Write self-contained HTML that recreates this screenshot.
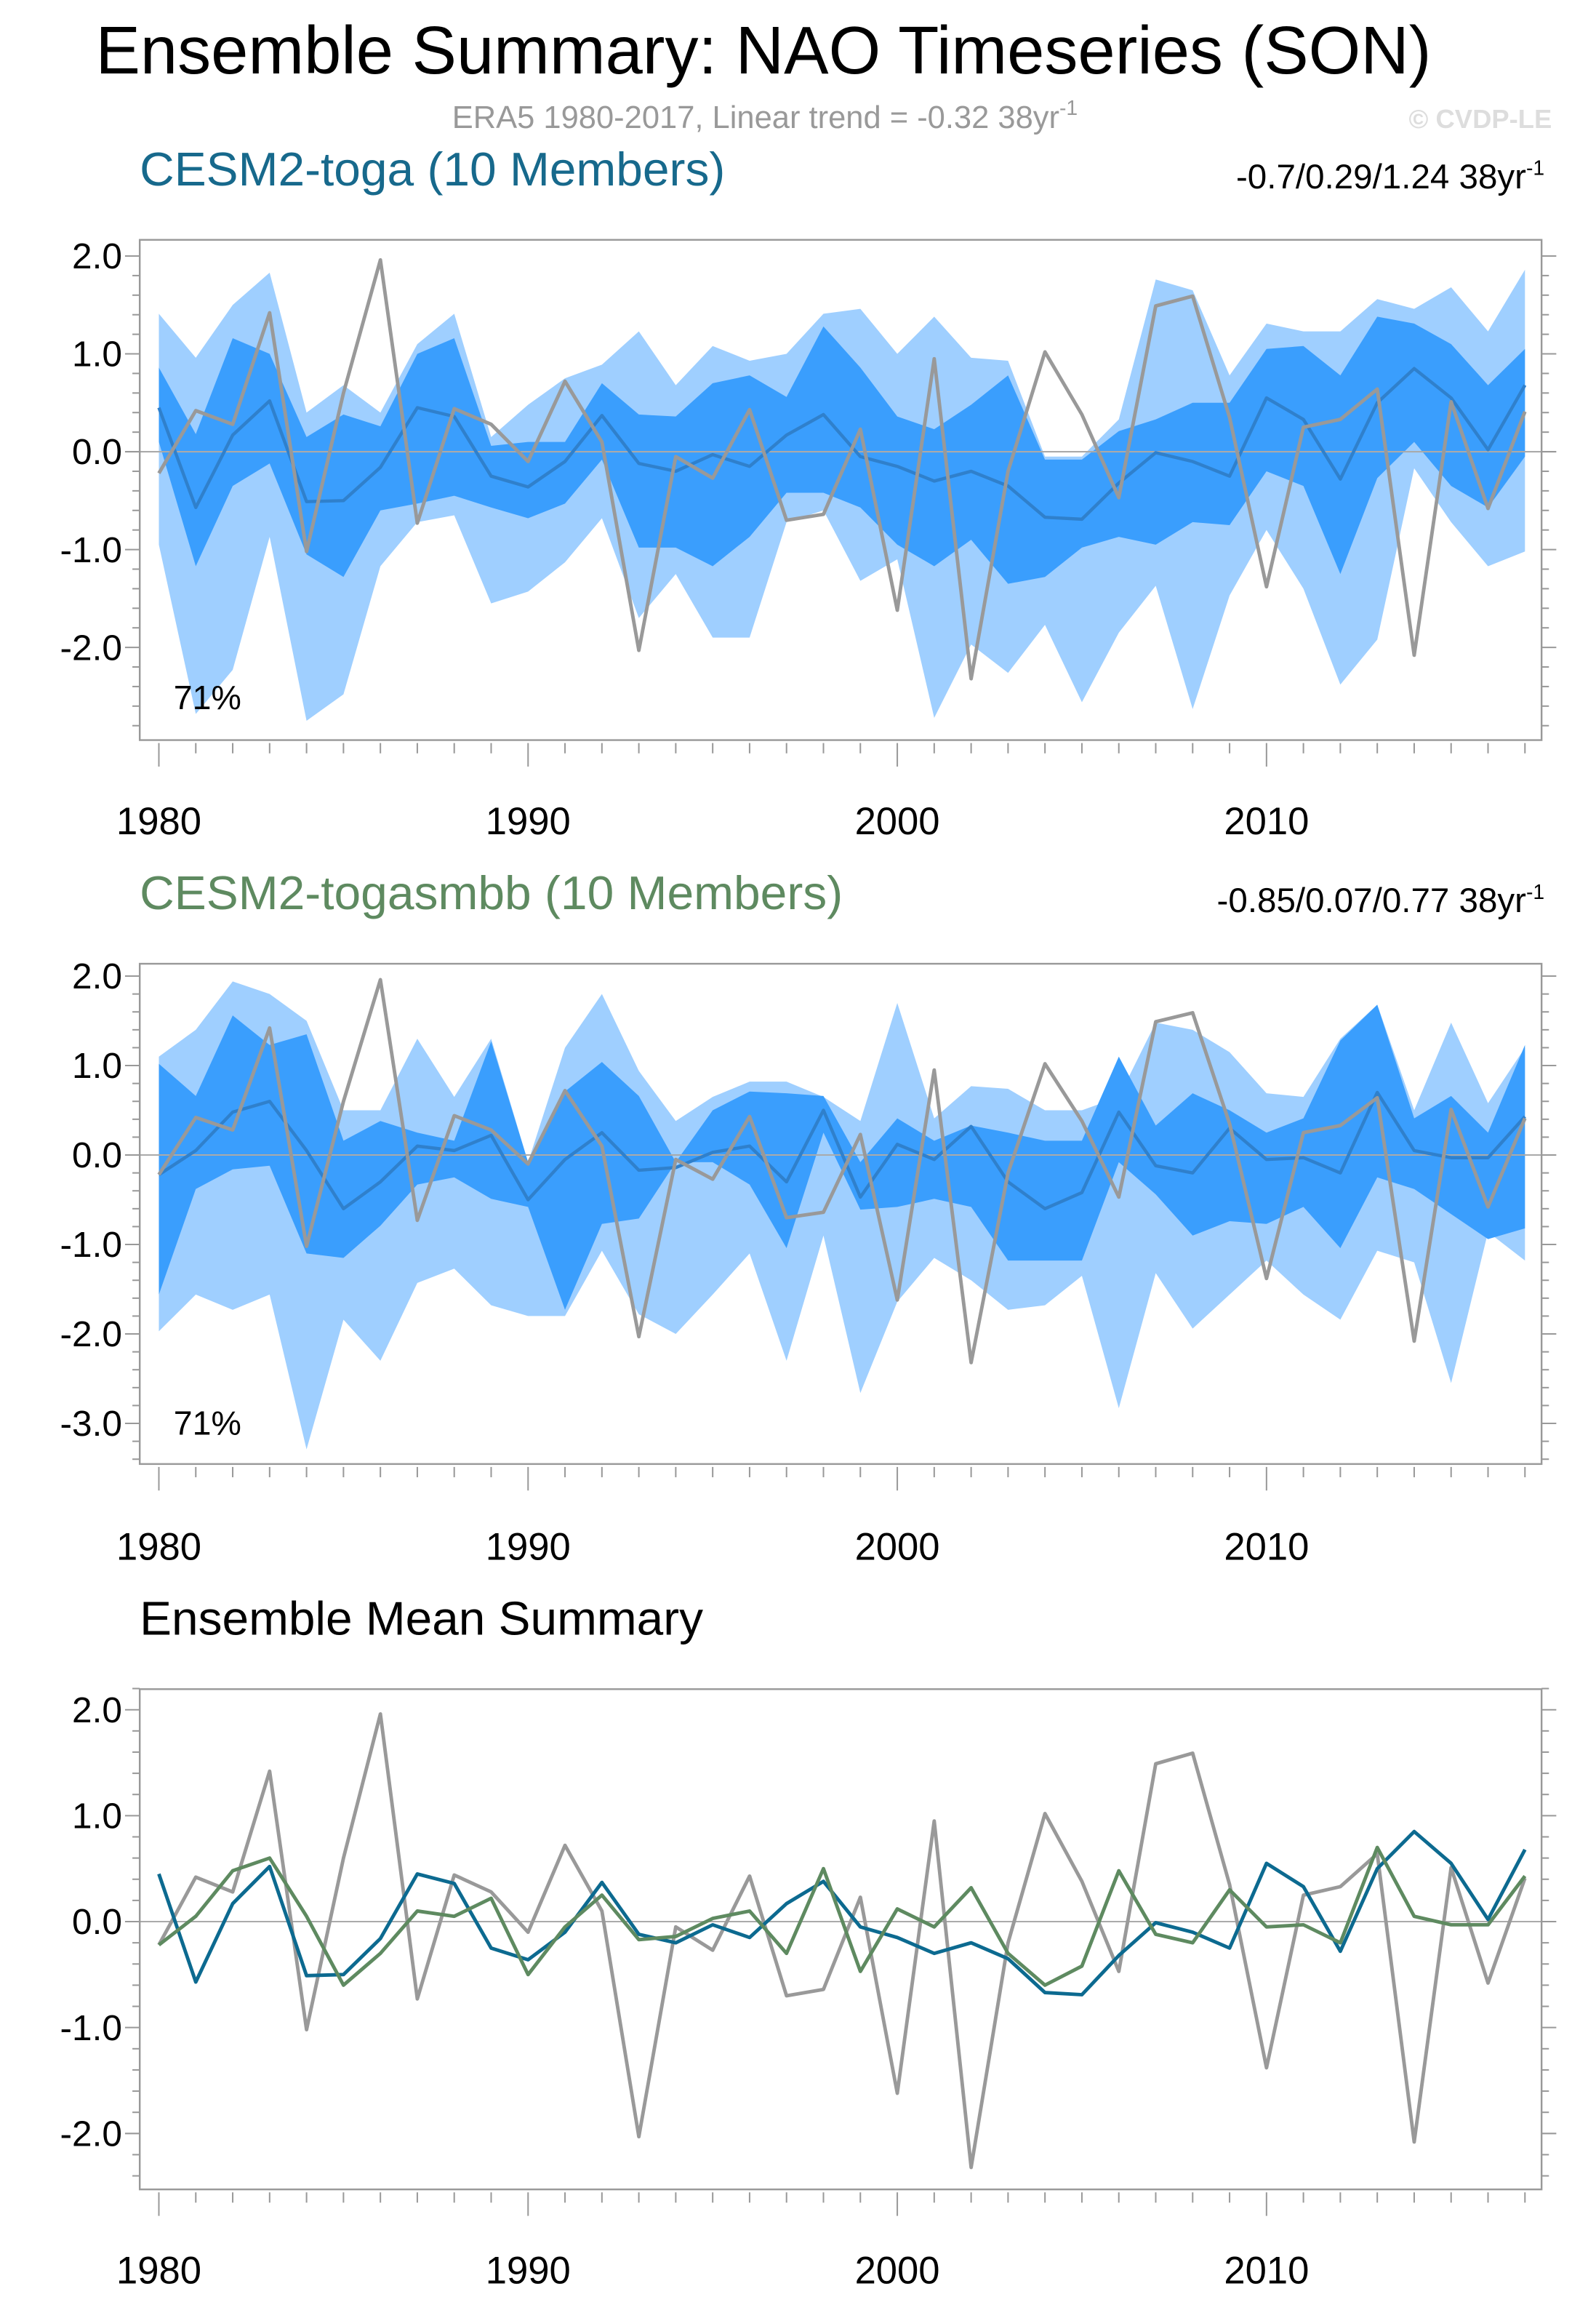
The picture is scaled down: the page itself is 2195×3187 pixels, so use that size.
<!DOCTYPE html>
<html><head><meta charset="utf-8">
<style>
html,body{margin:0;padding:0;background:#fff;}
svg{display:block;}
text{font-family:"Liberation Sans",Helvetica,Arial,sans-serif;}
</style></head>
<body>
<svg id="fig" width="2195" height="3187" viewBox="0 0 1085 1575.4" preserveAspectRatio="none" xmlns="http://www.w3.org/2000/svg">
<text x="65" y="50" font-size="46" textLength="908" lengthAdjust="spacingAndGlyphs">Ensemble Summary: NAO Timeseries (SON)</text>
<text x="520" y="87" font-size="21.5" fill="#999" text-anchor="middle">ERA5 1980-2017, Linear trend = -0.32 38yr<tspan font-size="14" dy="-9">-1</tspan></text>
<text x="1055" y="87" font-size="18" font-weight="bold" fill="#ddd" text-anchor="end">© CVDP-LE</text>
<text x="95" y="126" font-size="32" fill="#17698c" textLength="398" lengthAdjust="spacingAndGlyphs">CESM2-toga (10 Members)</text>
<text x="1050" y="128" font-size="23.5" text-anchor="end">-0.7/0.29/1.24 38yr<tspan font-size="14" dy="-9">-1</tspan></text>
<text x="95" y="618" font-size="32" fill="#5e8a60" textLength="478" lengthAdjust="spacingAndGlyphs">CESM2-togasmbb (10 Members)</text>
<text x="1050" y="620" font-size="23.5" text-anchor="end">-0.85/0.07/0.77 38yr<tspan font-size="14" dy="-9">-1</tspan></text>
<text x="95" y="1111" font-size="32" textLength="383" lengthAdjust="spacingAndGlyphs">Ensemble Mean Summary</text>
</svg>
<script>
const years=[];for(let y=1980;y<=2017;y++)years.push(y);
const era5=[-0.22,0.42,0.28,1.42,-1.02,0.6,1.96,-0.73,0.44,0.28,-0.1,0.72,0.1,-2.03,-0.05,-0.27,0.43,-0.7,-0.64,0.23,-1.62,0.95,-2.32,-0.2,1.02,0.38,-0.47,1.49,1.59,0.35,-1.38,0.25,0.33,0.64,-2.08,0.51,-0.58,0.41];
const togaMean=[0.45,-0.57,0.17,0.52,-0.51,-0.5,-0.16,0.45,0.36,-0.25,-0.36,-0.1,0.37,-0.12,-0.2,-0.03,-0.15,0.17,0.38,-0.05,-0.15,-0.3,-0.2,-0.35,-0.67,-0.69,-0.32,-0.01,-0.1,-0.25,0.55,0.33,-0.28,0.5,0.85,0.55,0.02,0.68];
const smbbMean=[-0.22,0.05,0.48,0.6,0.05,-0.6,-0.3,0.1,0.05,0.22,-0.5,-0.05,0.25,-0.17,-0.14,0.03,0.1,-0.3,0.5,-0.47,0.12,-0.05,0.32,-0.3,-0.6,-0.42,0.48,-0.12,-0.2,0.3,-0.05,-0.03,-0.2,0.7,0.05,-0.03,-0.03,0.43];
const togaOuterHi=[1.41,0.96,1.5,1.83,0.4,0.68,0.4,1.1,1.41,0.15,0.48,0.75,0.89,1.23,0.68,1.08,0.93,1.0,1.41,1.46,1.0,1.38,0.96,0.93,-0.05,-0.05,0.33,1.76,1.65,0.78,1.31,1.23,1.23,1.56,1.46,1.68,1.23,1.86];
const togaOuterLo=[-0.95,-2.68,-2.23,-0.87,-2.75,-2.48,-1.17,-0.72,-0.65,-1.55,-1.43,-1.13,-0.68,-1.7,-1.25,-1.9,-1.9,-0.72,-0.6,-1.32,-1.1,-2.72,-1.97,-2.26,-1.77,-2.56,-1.85,-1.37,-2.63,-1.47,-0.8,-1.4,-2.38,-1.92,-0.17,-0.72,-1.17,-1.02];
const togaInnerHi=[0.86,0.18,1.16,1.0,0.15,0.38,0.26,1.0,1.16,0.06,0.1,0.1,0.7,0.38,0.36,0.7,0.78,0.56,1.28,0.86,0.36,0.23,0.48,0.78,-0.08,-0.08,0.21,0.33,0.5,0.5,1.05,1.08,0.78,1.38,1.31,1.1,0.68,1.05];
const togaInnerLo=[0.1,-1.17,-0.35,-0.12,-1.05,-1.28,-0.6,-0.53,-0.45,-0.57,-0.68,-0.53,-0.08,-0.98,-0.98,-1.17,-0.87,-0.42,-0.42,-0.57,-0.95,-1.17,-0.9,-1.35,-1.28,-0.98,-0.87,-0.95,-0.72,-0.75,-0.2,-0.35,-1.25,-0.27,0.1,-0.35,-0.57,-0.05];
const smbbOuterHi=[1.1,1.4,1.94,1.8,1.5,0.5,0.5,1.3,0.65,1.3,-0.08,1.2,1.8,0.94,0.38,0.65,0.82,0.82,0.65,0.38,1.7,0.41,0.77,0.74,0.5,0.5,0.65,1.48,1.4,1.15,0.69,0.65,1.3,1.68,0.5,1.48,0.58,1.2];
const smbbOuterLo=[-1.97,-1.56,-1.73,-1.56,-3.29,-1.84,-2.3,-1.43,-1.27,-1.68,-1.8,-1.8,-1.07,-1.78,-2.0,-1.56,-1.1,-2.3,-0.9,-2.66,-1.64,-1.15,-1.4,-1.73,-1.68,-1.35,-2.83,-1.32,-1.94,-1.56,-1.18,-1.56,-1.84,-1.07,-1.2,-2.55,-0.86,-1.18];
const smbbInnerHi=[1.02,0.66,1.56,1.23,1.35,0.16,0.38,0.25,0.16,1.27,-0.08,0.71,1.04,0.66,-0.08,0.5,0.71,0.69,0.66,-0.08,0.41,0.16,0.33,0.25,0.16,0.16,1.1,0.33,0.69,0.5,0.25,0.41,1.28,1.68,0.41,0.66,0.25,1.23];
const smbbInnerLo=[-1.56,-0.38,-0.16,-0.12,-1.1,-1.15,-0.79,-0.33,-0.25,-0.49,-0.58,-1.73,-0.77,-0.71,-0.08,-0.08,-0.33,-1.04,0.25,-0.61,-0.58,-0.49,-0.58,-1.18,-1.18,-1.18,-0.08,-0.44,-0.9,-0.74,-0.77,-0.58,-1.04,-0.25,-0.38,-0.66,-0.94,-0.82];
const yTicks1=[2,1,0,-1,-2];
const yTicks2=[2,1,0,-1,-2,-3];
const xTickLabels=[1980,1990,2000,2010];

const NS="http://www.w3.org/2000/svg";
const svg=document.getElementById('fig');
function mk(tag,attrs,parent){const e=document.createElementNS(NS,tag);for(const k in attrs)e.setAttribute(k,attrs[k]);(parent||svg).appendChild(e);return e;}
const X0=95,X1=1048;
function xs(yr){return 108+(yr-1980)*25.1;}

function panel(id,top,bot,zeroY,ppu,ymin,ymax,yt,labelY){
  const g=mk('g',{});
  
  
  const ys=v=>zeroY-v*ppu;
  return {g,ys,top,bot,ymin,ymax,yt,labelY,id};
}
function band(P,hi,lo,fill,name){
  let pts=years.map((y,i)=>xs(y)+','+P.ys(hi[i]));
  for(let i=years.length-1;i>=0;i--)pts.push(xs(years[i])+','+P.ys(lo[i]));
  const e=mk('polygon',{points:pts.join(' '),fill:fill,stroke:'none'},P.g);
  
  
}
function line(P,vals,color,w,name){
  const e=mk('polyline',{points:years.map((y,i)=>xs(y)+','+P.ys(vals[i])).join(' '),fill:'none',stroke:color,'stroke-width':w,'stroke-linejoin':'round'},P.g);
  
  
}
function frame(P){
  const z=mk('line',{x1:X0,x2:X1,y1:P.ys(0),y2:P.ys(0),stroke:'#aaa','stroke-width':1},P.g);
  
  
  const r=mk('rect',{x:X0,y:P.top,width:X1-X0,height:P.bot-P.top,fill:'none',stroke:'#999','stroke-width':1.2},P.g);
  
  
  for(let k=Math.round(P.ymin*5);k<=Math.round(P.ymax*5);k++){
    const v=k/5,y=P.ys(v);if(y<P.top-0.5||y>P.bot+0.5)continue;
    const major=k%5===0,len=major?10:5;
    mk('line',{x1:X0-len,x2:X0,y1:y,y2:y,stroke:'#999','stroke-width':1},P.g);
    mk('line',{x1:X1,x2:X1+len,y1:y,y2:y,stroke:'#999','stroke-width':1},P.g);
  }
  P.yt.forEach(v=>{
    const t=mk('text',{x:83,y:P.ys(v)+8.5,'font-size':24.5,'text-anchor':'end'},P.g);
    t.textContent=v.toFixed(1);
    
    
  });
  years.forEach(yr=>{
    const major=yr%10===0;
    mk('line',{x1:xs(yr),x2:xs(yr),y1:P.bot+2,y2:P.bot+(major?18:9),stroke:'#999','stroke-width':1},P.g);
  });
  xTickLabels.forEach(yr=>{
    const t=mk('text',{x:xs(yr),y:P.labelY,'font-size':26,'text-anchor':'middle'},P.g);
    t.textContent=yr;
    
    
  });
}
function pct(P,y){const t=mk('text',{x:118,y:y,'font-size':23},P.g);t.textContent='71%';
  
  }

const LIGHT='#9fcfff',DARK='#3a9efd',MEAN='#2f80cc',GRAY='#999';
const P1=panel('panel-toga',163,503,307,66.5,-2.9,2.0,yTicks1,567);
band(P1,togaOuterHi,togaOuterLo,LIGHT,'toga-outer-band');
band(P1,togaInnerHi,togaInnerLo,DARK,'toga-inner-band');
frame(P1);
line(P1,togaMean,MEAN,2.2,'toga-mean-line');
line(P1,era5,GRAY,2.4,'era5-line');
pct(P1,482);

const P2=panel('panel-togasmbb',655,995,785,60.8,-3.4,2.0,yTicks2,1060);
band(P2,smbbOuterHi,smbbOuterLo,LIGHT,'smbb-outer-band');
band(P2,smbbInnerHi,smbbInnerLo,DARK,'smbb-inner-band');
frame(P2);
line(P2,smbbMean,MEAN,2.2,'smbb-mean-line');
line(P2,era5,GRAY,2.4,'era5-line');
pct(P2,975);

const P3=panel('panel-ensemble-mean',1148,1488,1306,72,-2.5,2.2,yTicks1,1552);
frame(P3);
line(P3,era5,GRAY,2.4,'era5-line');
line(P3,togaMean,'#0c6a90',2.4,'toga-mean-line');
line(P3,smbbMean,'#5e8a60',2.4,'smbb-mean-line');
</script>
</body></html>
